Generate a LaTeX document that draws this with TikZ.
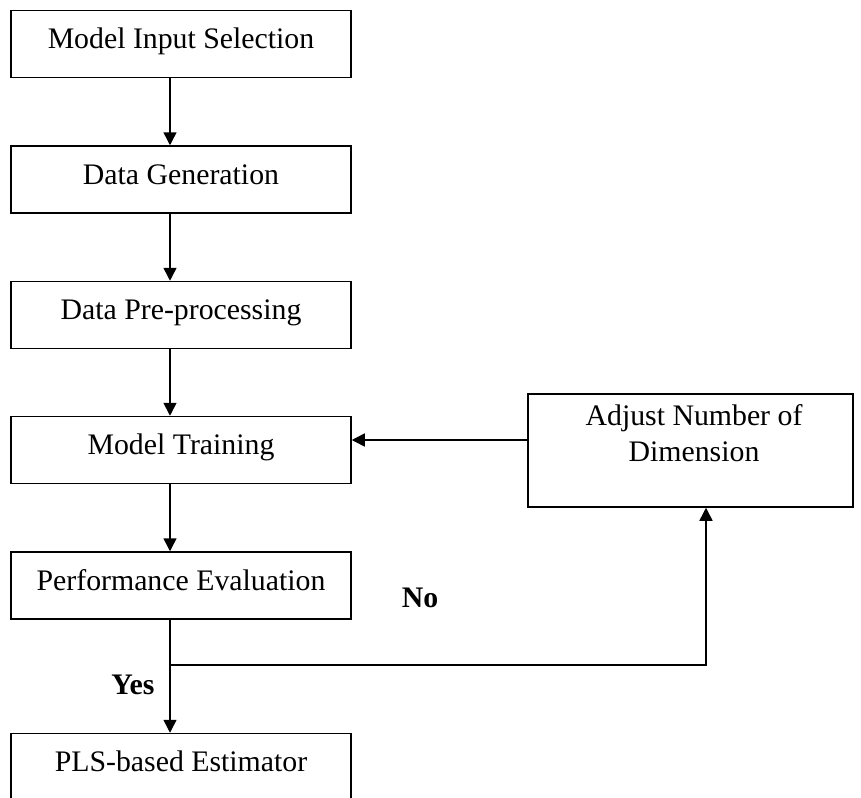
\documentclass[tikz,border=0pt]{standalone}
\usepackage{fontspec}
\setmainfont{Liberation Serif}
\usetikzlibrary{arrows.meta}

\newcommand{\bodysize}{\fontsize{29.8}{36}\selectfont}

\tikzset{
  stepbox/.style={draw, line width=1.5pt, minimum width=340pt, minimum height=67pt,
                  inner sep=0pt, text height=20pt, text depth=11pt},
  flow/.style={line width=1.5pt, -{Triangle[width=13pt,length=13pt]}},
  tag/.style={font=\bodysize\bfseries, inner sep=0pt}
}

\begin{document}
\begin{tikzpicture}[x=1pt, y=-1pt, font=\bodysize]
  \useasboundingbox (0,0) rectangle (861,797);

  % main column of steps
  \node[stepbox] (b1) at (181,44)    {Model Input Selection};
  \node[stepbox] (b2) at (181,179.5) {Data Generation};
  \node[stepbox] (b3) at (181,315)   {Data Pre-processing};
  \node[stepbox] (b4) at (181,450)   {Model Training};
  \node[stepbox] (b5) at (181,585.5) {Performance Evaluation};
  \node[stepbox] (b6) at (181,767)   {PLS-based Estimator};

  % feedback box
  \node[draw, line width=1.5pt, minimum width=325pt, minimum height=113pt, inner sep=0pt]
    (adj) at (690.5,450.5) {};
  \node[align=center, anchor=north, inner sep=0pt] (adjtext) at (694,404)
    {Adjust Number of\\Dimension};

  % helper coordinates for connector routing
  \coordinate (spine) at (170,0);
  \coordinate (jn) at (170,665);
  \coordinate (upx) at (706,0);
  \coordinate (fb) at (0,440);

  % vertical flow
  \draw[flow] (b1.south -| spine) -- (b2.north -| spine);
  \draw[flow] (b2.south -| spine) -- (b3.north -| spine);
  \draw[flow] (b3.south -| spine) -- (b4.north -| spine);
  \draw[flow] (b4.south -| spine) -- (b5.north -| spine);
  \draw[flow] (b5.south -| spine) -- (b6.north -| spine);

  % loop back through the adjustment step
  \draw[flow] (jn) -| (adj.south -| upx);
  \draw[flow] (adj.west |- fb) -- (b4.east |- fb);

  % decision labels
  \node[tag] (no)  at (420,598) {No};
  \node[tag] (yes) at (133,685) {Yes};
\end{tikzpicture}
\end{document}
